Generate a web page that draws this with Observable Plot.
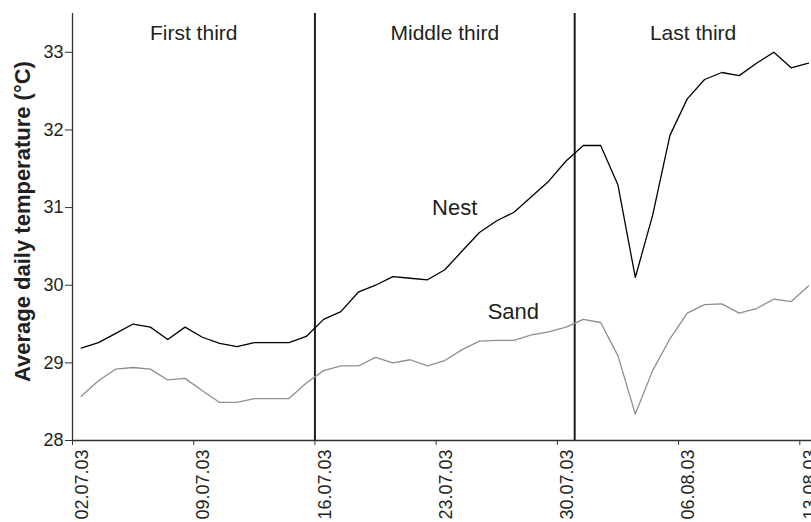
<!DOCTYPE html>
<html>
<head>
<meta charset="utf-8">
<script src="https://cdn.jsdelivr.net/npm/d3@7"></script>
<script src="https://cdn.jsdelivr.net/npm/@observablehq/plot@0.6"></script>
<style>
  body { margin: 0; background: #fff; }
  #chart svg { display: block; }
</style>
</head>
<body>
<div id="chart"></div>
<script>
// ---- data ----
const firstDay = "02.07.03";
const nest = [29.19, 29.26, 29.38, 29.50, 29.46, 29.30, 29.46, 29.33, 29.25, 29.21,
              29.26, 29.26, 29.26, 29.34, 29.56, 29.66, 29.91, 30.00, 30.11, 30.09,
              30.07, 30.20, 30.44, 30.68, 30.83, 30.94, 31.14, 31.34, 31.60, 31.80,
              31.80, 31.29, 30.10, 30.90, 31.93, 32.40, 32.65, 32.74, 32.70, 32.86,
              33.00, 32.80, 32.86];
const sand = [28.57, 28.77, 28.92, 28.94, 28.92, 28.78, 28.80, 28.64, 28.49, 28.49,
              28.54, 28.54, 28.54, 28.74, 28.90, 28.96, 28.96, 29.07, 29.00, 29.04,
              28.96, 29.03, 29.17, 29.28, 29.29, 29.29, 29.36, 29.40, 29.46, 29.56,
              29.52, 29.09, 28.34, 28.90, 29.31, 29.64, 29.75, 29.76, 29.64, 29.70,
              29.82, 29.79, 29.99];
const seriesNames = ["Nest", "Sand"];
const xTickLabels = ["02.07.03", "09.07.03", "16.07.03", "23.07.03", "30.07.03", "06.08.03", "13.08.03"];
const yTicks = [28, 29, 30, 31, 32, 33];
const sectionNames = ["First third", "Middle third", "Last third"];
const sectionBreaks = ["16.07.03", "31.07.03"];
const yLabel = "Average daily temperature (°C)";

// ---- build tables ----
const parse = d3.utcParse("%d.%m.%y");
const fmt = d3.utcFormat("%d.%m.%y");
const day0 = parse(firstDay);
const noon = i => new Date(+d3.utcDay.offset(day0, i) + 12 * 3600e3);
const rows = [];
nest.forEach((v, i) => rows.push({series: "Nest", date: noon(i), value: v}));
sand.forEach((v, i) => rows.push({series: "Sand", date: noon(i), value: v}));

const xTicks = xTickLabels.map(parse);
const breaks = sectionBreaks.map(parse);
const xEnd = new Date(+parse("13.08.03") + 16.2 * 3600e3);
const edges = [day0, ...breaks, xEnd];
const sections = sectionNames.map((name, i) => ({
  name,
  date: new Date((+edges[i] + +edges[i + 1]) / 2)
}));
const seriesLabels = [
  {name: seriesNames[0], date: new Date(Date.UTC(2003, 6, 24, 1, 40)), value: 31.0},
  {name: seriesNames[1], date: new Date(Date.UTC(2003, 6, 27, 11, 0)), value: 29.65}
];

const font = "'Liberation Sans', Arial, Helvetica, sans-serif";
const ink = "#231f20";

const chart = Plot.plot({
  width: 811,
  height: 522,
  marginLeft: 72,
  marginRight: 0,
  marginTop: 13,
  marginBottom: 82,
  style: {fontFamily: font, fontSize: "18px", color: ink, background: "#fff", overflow: "visible"},
  x: {type: "utc", domain: [day0, xEnd]},
  y: {domain: [28, 33.5]},
  color: {domain: seriesNames, range: ["#000000", "#8e8e8e"]},
  marks: [
    Plot.ruleX(breaks, {stroke: "#1e1e1e", strokeWidth: 2}),
    Plot.ruleY([28], {stroke: "#333", strokeWidth: 1.3}),
    Plot.ruleX([day0], {stroke: "#333", strokeWidth: 1.3}),
    Plot.lineY(rows, {x: "date", y: "value", z: "series", stroke: "series", strokeWidth: 1.3}),
    Plot.axisY({ticks: yTicks, tickFormat: d3.format("d"), tickSize: 7, tickPadding: 2,
                label: null, fontSize: 18, stroke: "#333"}),
    Plot.axisX({ticks: xTicks, tickSize: 5, fill: "none", label: null, stroke: "#333"}),
    Plot.axisX({ticks: xTicks, tickSize: 5, stroke: "none", tickPadding: 4, tickRotate: -90,
                tickFormat: fmt, label: null, fontSize: 18, dx: 10}),
    Plot.text(sections, {x: "date", y: () => 33.24, text: "name", fontSize: 21, fill: ink}),
    Plot.text(seriesLabels, {x: "date", y: "value", text: "name", fontSize: 22, fill: ink}),
    Plot.text([yLabel], {frameAnchor: "left", y: () => 30.82, text: d => d, rotate: -90,
                         textAnchor: "middle", dx: -50, fontSize: 22, fontWeight: "bold", fill: ink})
  ]
});
document.getElementById("chart").appendChild(chart);
</script>
</body>
</html>
